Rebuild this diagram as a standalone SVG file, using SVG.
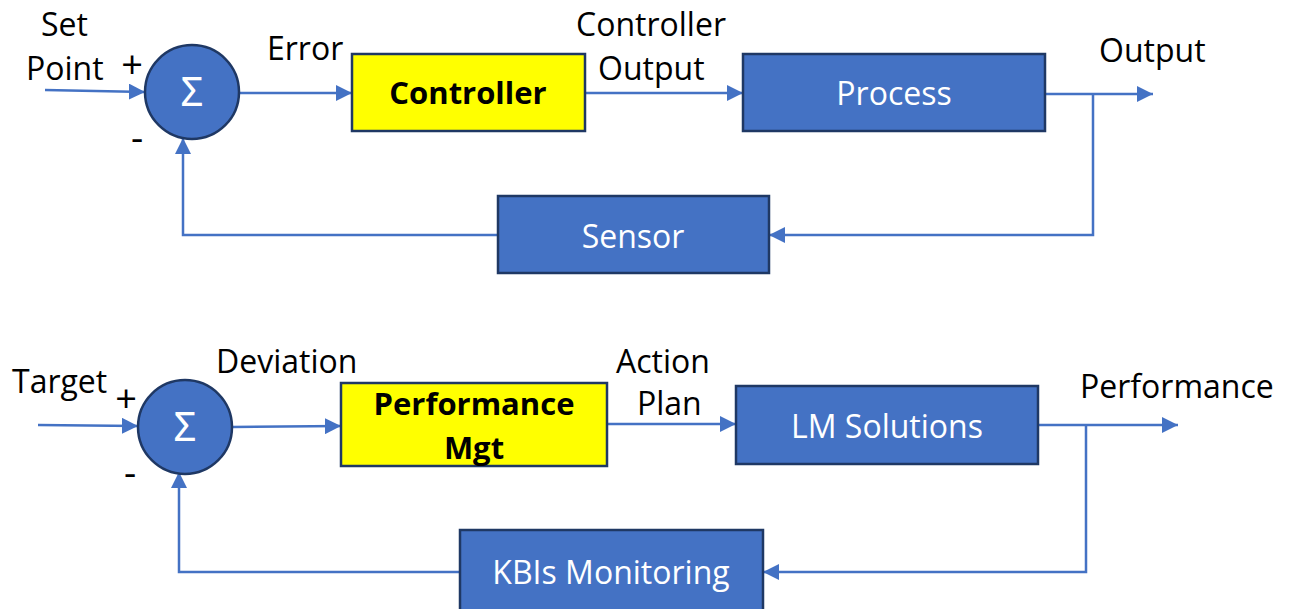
<svg xmlns="http://www.w3.org/2000/svg" width="1299" height="609" viewBox="0 0 1299 609">
<defs>
<marker id="ah" viewBox="0 0 10 10" refX="10" refY="5" markerWidth="6.5" markerHeight="6.5" orient="auto" markerUnits="strokeWidth">
<path d="M0,0 L10,5 L0,10 z" fill="#4472C4"/>
</marker>
<style>
.t{font-family:"Open Sans","Noto Sans",sans-serif;font-size:32px;fill:#000}
.w{font-family:"Open Sans","Noto Sans",sans-serif;font-size:32px;fill:#fff;text-anchor:middle}
.s{font-family:"Noto Sans","Open Sans",sans-serif;font-size:40px;fill:#fff;text-anchor:middle}
.p{font-family:"Open Sans","Noto Sans",sans-serif;font-size:38px;fill:#000;text-anchor:middle}
.b{font-family:"Open Sans","Noto Sans",sans-serif;font-size:31px;font-weight:bold;fill:#000;text-anchor:middle}
.blue{fill:#4472C4;stroke:#1F3864;stroke-width:2.5}
.yel{fill:#FFFF00;stroke:#1F3864;stroke-width:2.5}
.c{fill:none;stroke:#4472C4;stroke-width:2.5}
.a{marker-end:url(#ah)}
</style>
</defs>
<rect width="1299" height="609" fill="#fff"/>

<g id="connectors">
<line class="c a" x1="45" y1="90" x2="145" y2="92"/>
<line class="c a" x1="239" y1="93" x2="352" y2="93"/>
<line class="c a" x1="585" y1="93" x2="743" y2="93"/>
<line class="c a" x1="1045" y1="94" x2="1153" y2="94"/>
<polyline class="c a" points="1093,94 1093,235 769,235"/>
<polyline class="c a" points="498,235 183,235 183,138"/>

<line class="c a" x1="38" y1="425" x2="138" y2="426"/>
<line class="c a" x1="232" y1="427" x2="341" y2="426"/>
<line class="c a" x1="607" y1="424" x2="736" y2="424"/>
<line class="c a" x1="1038" y1="425" x2="1178" y2="425"/>
<polyline class="c a" points="1086,425 1086,572 763,572"/>
<polyline class="c a" points="460,572 179,572 179,472"/>
</g>

<g id="sum1">
<circle class="blue" cx="192" cy="92" r="47"/>
<text class="s" x="192" y="106">Σ</text>
</g>
<g id="controller">
<rect class="yel" x="352" y="54" width="233" height="77"/>
<text class="b" x="468" y="104">Controller</text>
</g>
<g id="process">
<rect class="blue" x="743" y="54" width="302" height="77"/>
<text class="w" x="894" y="105">Process</text>
</g>
<g id="sensor">
<rect class="blue" x="498" y="196" width="271" height="77"/>
<text class="w" x="633" y="248">Sensor</text>
</g>

<g id="sum2">
<circle class="blue" cx="185" cy="427" r="47"/>
<text class="s" x="185" y="441">Σ</text>
</g>
<g id="perfmgt">
<rect class="yel" x="341" y="383" width="266" height="83"/>
<text class="b" x="474" y="415">Performance</text>
<text class="b" x="474" y="459">Mgt</text>
</g>
<g id="lmsolutions">
<rect class="blue" x="736" y="386" width="302" height="78"/>
<text class="w" x="887" y="438">LM Solutions</text>
</g>
<g id="kbis">
<rect class="blue" x="460" y="530" width="303" height="82"/>
<text class="w" x="611" y="584">KBIs Monitoring</text>
</g>

<g id="labels">
<text class="t" x="41" y="36">Set</text>
<text class="t" x="26" y="80">Point</text>
<text class="p" x="132" y="78">+</text>
<text class="p" x="137" y="151">-</text>
<text class="t" x="267" y="60">Error</text>
<text class="t" x="576" y="36">Controller</text>
<text class="t" x="598" y="80">Output</text>
<text class="t" x="1099" y="62">Output</text>

<text class="t" x="12" y="393">Target</text>
<text class="p" x="126" y="412">+</text>
<text class="p" x="130" y="486">-</text>
<text class="t" x="216" y="373">Deviation</text>
<text class="t" x="616" y="373">Action</text>
<text class="t" x="637" y="415">Plan</text>
<text class="t" x="1080" y="398">Performance</text>
</g>
</svg>
